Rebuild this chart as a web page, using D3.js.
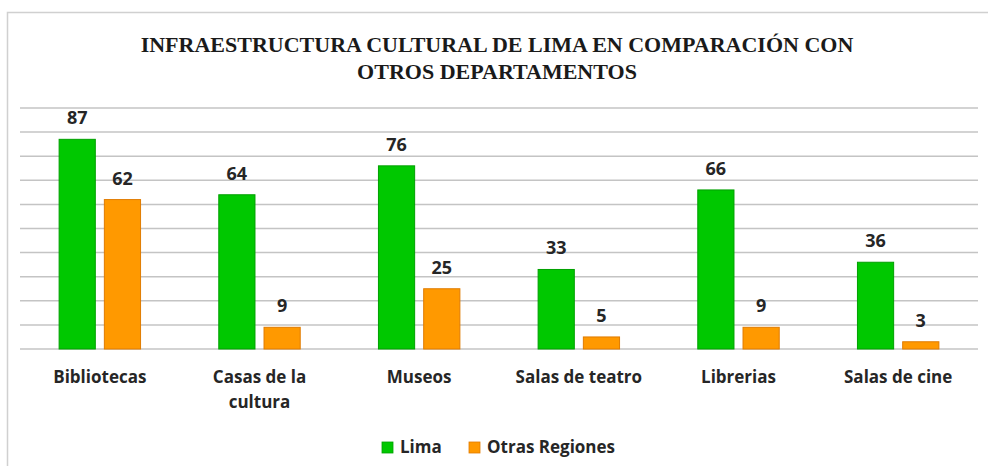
<!DOCTYPE html>
<html>
<head>
<meta charset="utf-8">
<script src="https://cdn.jsdelivr.net/npm/d3@7"></script>
<style>
  body { margin: 0; background: #fff; }
  svg { display: block; }
</style>
</head>
<body>
<svg id="chart"></svg>
<script>
// data
const categories = ["Bibliotecas", "Casas de la cultura", "Museos", "Salas de teatro", "Librerias", "Salas de cine"];
const series = ["Lima", "Otras Regiones"];
const lima = [87, 64, 76, 33, 66, 36];
const otras = [62, 9, 25, 5, 9, 3];
const yTicks = [0, 10, 20, 30, 40, 50, 60, 70, 80, 90, 100];
const titleLines = ["INFRAESTRUCTURA CULTURAL DE LIMA EN COMPARACIÓN CON", "OTROS DEPARTAMENTOS"];

const colors = { "Lima": "#00c800", "Otras Regiones": "#ff9900" };
const strokes = { "Lima": "#00a000", "Otras Regiones": "#e07b00" };

let width = 988;
let height = 466;
const margin = { top: 108, right: 10, bottom: 117, left: 20 };
const font = "'Open Sans', Lato, sans-serif";

const svg = d3.select("#chart")
    .attr("width", width)
    .attr("height", height)
    .style("font-family", font);

// chart frame
svg.append("rect")
    .attr("x", 7.5)
    .attr("y", 12.5)
    .attr("width", width)
    .attr("height", height)
    .attr("fill", "none")
    .attr("stroke", "#d0d0d0")
    .attr("stroke-width", 1.5);

const table = categories.map((c, i) => ({ name: c, values: [lima[i], otras[i]] }));

const x0 = d3.scaleBand()
    .domain(categories)
    .range([margin.left, width - margin.right])
    .paddingInner(0.49)
    .paddingOuter(0.245);

const x1 = d3.scaleBand()
    .domain(series)
    .range([0, x0.bandwidth()])
    .paddingInner(0.2);

const y = d3.scaleLinear()
    .domain([0, 100])
    .range([height - margin.bottom, margin.top]);

// gridlines
svg.append("g")
    .selectAll("line")
    .data(yTicks)
    .join("line")
    .attr("x1", margin.left)
    .attr("x2", width - margin.right)
    .attr("y1", d => y(d))
    .attr("y2", d => y(d))
    .attr("stroke", "#c4c4c4")
    .attr("stroke-width", 1.5);

// title
svg.append("text")
    .attr("text-anchor", "middle")
    .style("font-family", "'Liberation Serif', 'Times New Roman', serif")
    .style("font-weight", "bold")
    .style("font-size", "22px")
    .attr("fill", "#1a1a1a")
    .selectAll("tspan")
    .data(titleLines)
    .join("tspan")
    .attr("x", 497)
    .attr("y", (d, i) => 52 + i * 27)
    .text(d => d);

// bars
const group = svg.append("g")
    .selectAll("g")
    .data(table)
    .join("g")
    .attr("transform", d => `translate(${x0(d.name)},0)`);

const bars = group.selectAll("g")
    .data(d => d.values.map((v, i) => ({ key: series[i], value: v })))
    .join("g");

bars.append("rect")
    .attr("x", d => x1(d.key))
    .attr("y", d => y(d.value))
    .attr("width", x1.bandwidth())
    .attr("height", d => y(0) - y(d.value))
    .attr("fill", d => colors[d.key])
    .attr("stroke", d => strokes[d.key])
    .attr("stroke-width", 1);

bars.append("text")
    .attr("x", d => x1(d.key) + x1.bandwidth() / 2)
    .attr("y", d => y(d.value) - 15)
    .attr("text-anchor", "middle")
    .style("font-size", "18px")
    .style("font-weight", "bold")
    .attr("fill", "#262626")
    .text(d => d.value);

// category axis labels, wrapped like the original
const xAxis = svg.append("g")
    .attr("transform", `translate(0,${y(0)})`)
    .call(d3.axisBottom(x0).tickSize(0).tickPadding(0));
xAxis.select(".domain").remove();

xAxis.selectAll(".tick text")
    .attr("y", 34)
    .attr("dy", 0)
    .style("font-family", font)
    .style("font-size", "17px")
    .style("font-weight", "bold")
    .attr("fill", "#262626")
    .each(function (d) {
        const text = d3.select(this);
        const words = d.split(/\s+/);
        text.text(null);
        let line = [];
        let lineNo = 0;
        let tspan = text.append("tspan").attr("x", 0).attr("y", 34);
        for (let w of words) {
            line.push(w);
            tspan.text(line.join(" "));
            if (tspan.node().getComputedTextLength() > 150 && line.length > 1) {
                line.pop();
                tspan.text(line.join(" "));
                line = [w];
                lineNo++;
                tspan = text.append("tspan").attr("x", 0).attr("y", 34 + lineNo * 25).text(w);
            }
        }
    });

// legend
const legend = svg.append("g")
    .attr("transform", "translate(382,442)");

const legendX = [0, 87];
const item = legend.selectAll("g")
    .data(series)
    .join("g")
    .attr("transform", (d, i) => `translate(${legendX[i]},0)`);

item.append("rect")
    .attr("width", 11)
    .attr("height", 11)
    .attr("fill", d => colors[d])
    .attr("stroke", d => strokes[d])
    .attr("stroke-width", 0.8);

item.append("text")
    .attr("x", 18)
    .attr("y", 11)
    .style("font-size", "17px")
    .style("font-weight", "bold")
    .attr("fill", "#262626")
    .text(d => d);
</script>
</body>
</html>
